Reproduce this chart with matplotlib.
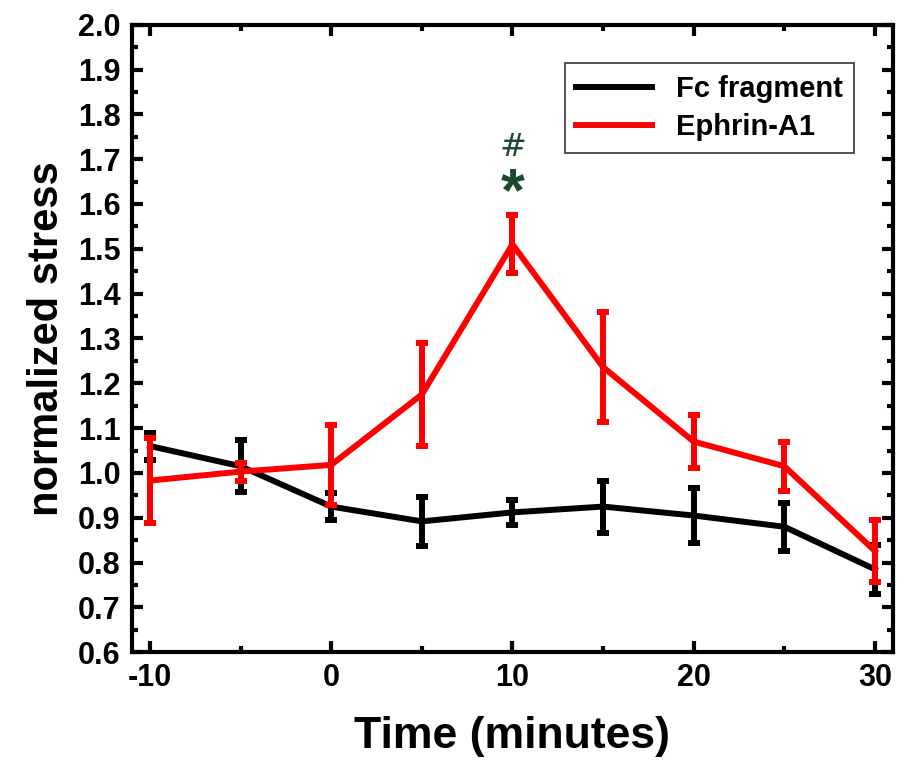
import numpy as np
import matplotlib.pyplot as plt
from matplotlib.ticker import MultipleLocator

plt.rcParams['font.family'] = ['Liberation Sans', 'DejaVu Sans']
plt.rcParams['font.weight'] = 'bold'
plt.rcParams['axes.unicode_minus'] = False

# Data
time = [-10, -5, 0, 5, 10, 15, 20, 25, 30]
fc = [1.06, 1.015, 0.925, 0.892, 0.912, 0.925, 0.905, 0.88, 0.785]
fc_err = [0.03, 0.058, 0.03, 0.055, 0.028, 0.058, 0.062, 0.054, 0.055]
eph = [0.983, 1.003, 1.018, 1.175, 1.51, 1.236, 1.07, 1.015, 0.826]
eph_err = [0.095, 0.02, 0.09, 0.115, 0.065, 0.123, 0.06, 0.055, 0.07]

fig = plt.figure(figsize=(9.03, 7.71), dpi=100)
ax = fig.add_axes([0.146, 0.154, 0.843, 0.814])

ax.errorbar(time, fc, yerr=fc_err, fmt='none', ecolor='black', elinewidth=4.3,
            capsize=4.5, capthick=4.3)
ax.plot(time, fc, color='black', lw=4.3, label='Fc fragment')
ax.errorbar(time, eph, yerr=eph_err, fmt='none', ecolor='red', elinewidth=4.3,
            capsize=4.5, capthick=4.3)
ax.plot(time, eph, color='red', lw=4.3, label='Ephrin-A1')

# significance marks
ax.text(10, 1.725, '#', color='#1d4a2c', ha='center', va='center', fontsize=23,
        fontweight='normal', family='DejaVu Sans')
ax.text(10, 1.62, '*', color='#1d4a2c', ha='center', va='center', fontsize=44,
        fontweight='bold')

ax.set_xlim(-11, 31)
ax.set_ylim(0.6, 2.0)
ax.xaxis.set_major_locator(MultipleLocator(10))
ax.xaxis.set_minor_locator(MultipleLocator(5))
ax.yaxis.set_major_locator(MultipleLocator(0.1))
ax.yaxis.set_minor_locator(MultipleLocator(0.05))
ax.yaxis.set_major_formatter(plt.FormatStrFormatter('%.1f'))

ax.tick_params(which='both', direction='in', top=True, right=True, width=3,
               labelsize=22, pad=8)
ax.tick_params(which='major', length=8)
ax.tick_params(which='minor', length=4)
for s in ax.spines.values():
    s.set_linewidth(3)

ax.set_xlabel('Time (minutes)', fontsize=32, fontweight='bold', labelpad=16)
ax.set_ylabel('normalized stress', fontsize=30, fontweight='bold', labelpad=8)

leg = ax.legend(loc='upper right', bbox_to_anchor=(0.968, 0.962), fontsize=21,
                frameon=True, fancybox=False, edgecolor='black', handlelength=2.6,
                borderpad=0.4, labelspacing=0.35)
leg.get_frame().set_linewidth(1.2)

fig.savefig('out.png', dpi=100)
